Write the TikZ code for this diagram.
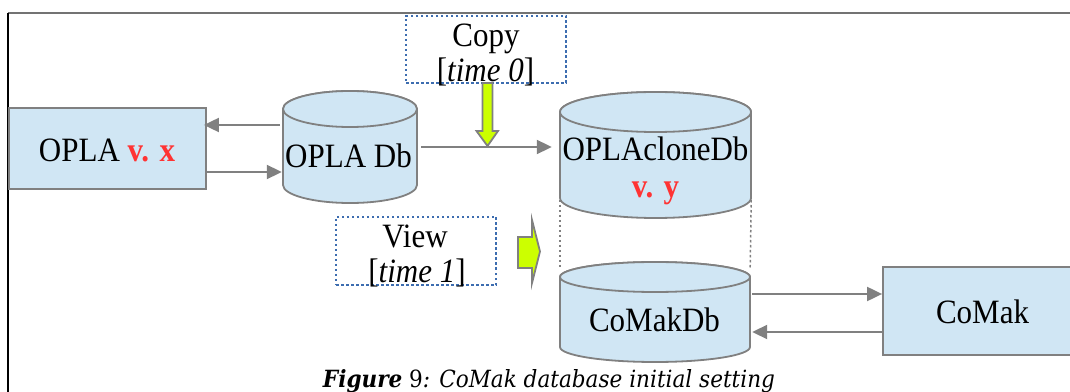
\documentclass[tikz,border=0pt]{standalone}
\usepackage{fontspec}
\usepackage{graphicx}
\setmainfont{Liberation Serif}
\newfontfamily\capfont{DejaVu Serif}
\usetikzlibrary{arrows.meta}
\definecolor{boxblue}{HTML}{D0E6F4}
\definecolor{edgegray}{HTML}{808080}
\definecolor{dotblue}{HTML}{3D6DB0}
\definecolor{limegreen}{HTML}{CCFF00}
\definecolor{vred}{HTML}{FF3333}
\newcommand\vst[1]{\scalebox{1}[1.1]{#1}}
\newcommand\mycyl[6]{%
  \draw[cylst] (#2-#3,#4) -- (#2-#3,#5) arc[start angle=180,end angle=360,x radius=#3pt,y radius=#6pt]
     -- (#2+#3,#4) arc[start angle=0,end angle=180,x radius=#3pt,y radius=#6pt] -- cycle;
  \draw[cylst] (#2,#4) ellipse[x radius=#3pt,y radius=#6pt];
  \node[inner sep=0pt,minimum width=2*#3pt,minimum height=#4-#5+2*#6pt] (#1) at (#2,{(#4+#5)/2}) {};}
\tikzset{
  boxst/.style={draw=edgegray,line width=1.8pt,fill=boxblue,inner sep=0pt},
  cylst/.style={draw=edgegray,line width=1.8pt,fill=boxblue},
  arr/.style={draw=edgegray,line width=2pt,-{Triangle[length=15pt,width=14pt]}},
  dotbox/.style={draw=dotblue,line width=1.6pt,dash pattern=on 2.5pt off 2.5pt,inner sep=0pt},
  greenarr/.style={draw=edgegray,line width=1.8pt,fill=limegreen,line join=miter},
  dotst/.style={draw=gray,line width=1.5pt,dash pattern=on 2.5pt off 2.5pt},
  lbl/.style={anchor=base,inner sep=0pt,font=\fontsize{31}{36}\selectfont},
}
\begin{document}
\begin{tikzpicture}[x=1pt,y=1pt]
\useasboundingbox (0,0) rectangle (1070,391);
% frame
\draw[draw=gray!90!black,line width=2pt] (8,378) -- (1072,378);
\draw[draw=black,line width=1.6pt] (8,378) -- (8,-2);
% boxes
\node[boxst,minimum width=197pt,minimum height=81pt] (opla) at (107.5,242.5) {};
\node[boxst,minimum width=197pt,minimum height=88pt] (comak) at (981.5,80) {};
% cylinders
\mycyl{opladb}{350}{67}{282}{206}{18}
\mycyl{clone}{655.5}{95.5}{279}{193}{20}
\mycyl{comakdb}{655}{95}{114}{44}{15}
% dotted group lines
\draw[dotst] (clone.west |- 0,191) -- (comakdb.west |- 0,123);
\draw[dotst] (clone.east |- 0,191) -- (comakdb.east |- 0,123);
% dotted label boxes
\node[dotbox,minimum width=160pt,minimum height=67pt] (copy) at (486,341.5) {};
\node[dotbox,minimum width=160pt,minimum height=68pt] (view) at (416,140) {};
% connectors
\draw[arr] ([xshift=-3pt]opladb.west |- 0,266) -- ([xshift=-3pt]opla.east |- 0,266);
\draw[arr] (opla.east |- 0,219) -- ([xshift=-1pt]opladb.west |- 0,219);
\draw[arr] ([xshift=4pt]opladb.east |- 0,244) -- ([xshift=-8pt]clone.west |- 0,244);
\draw[arr] ([xshift=2pt]comakdb.east |- 0,97) -- (comak.west |- 0,97);
\draw[arr] (comak.west |- 0,59) -- ([xshift=2pt]comakdb.east |- 0,59);
% green arrows
\draw[greenarr] (482.5,308) -- (482.5,260) -- (476.5,260) -- (487.5,245) -- (498,260) -- (492.5,260) -- (492.5,308) -- cycle;
\draw[greenarr] (518,154) -- (532,154) -- (532,171) -- (540,139.5) -- (532,108) -- (532,123) -- (518,123) -- cycle;
% labels
\node[lbl] (t1) at (107,229) {\vst{OPLA \textcolor{vred}{\textbf{v. x}}}};
\node[lbl] (t2) at (348.5,223) {\vst{OPLA Db}};
\node[lbl] (t3) at (486,344) {\vst{Copy}};
\node[lbl] (t4) at (485.5,309) {\vst{[\textit{time 0}]}};
\node[lbl] (t5) at (655.5,230) {\vst{OPLAcloneDb}};
\node[lbl] (t6) at (655.5,193) {\vst{\textcolor{vred}{\textbf{v. y}}}};
\node[lbl] (t7) at (654.5,60) {\vst{CoMakDb}};
\node[lbl] (t8) at (982.5,68) {\vst{CoMak}};
\node[lbl] (t9) at (415,143) {\vst{View}};
\node[lbl] (t10) at (417,109) {\vst{[\textit{time 1}]}};
% caption
\node[anchor=base,inner sep=0pt] (cap) at (549,4) {\resizebox{452pt}{18pt}{\capfont\textbf{\textit{Figure}} 9\textit{: CoMak database initial setting}}};
\end{tikzpicture}
\end{document}
